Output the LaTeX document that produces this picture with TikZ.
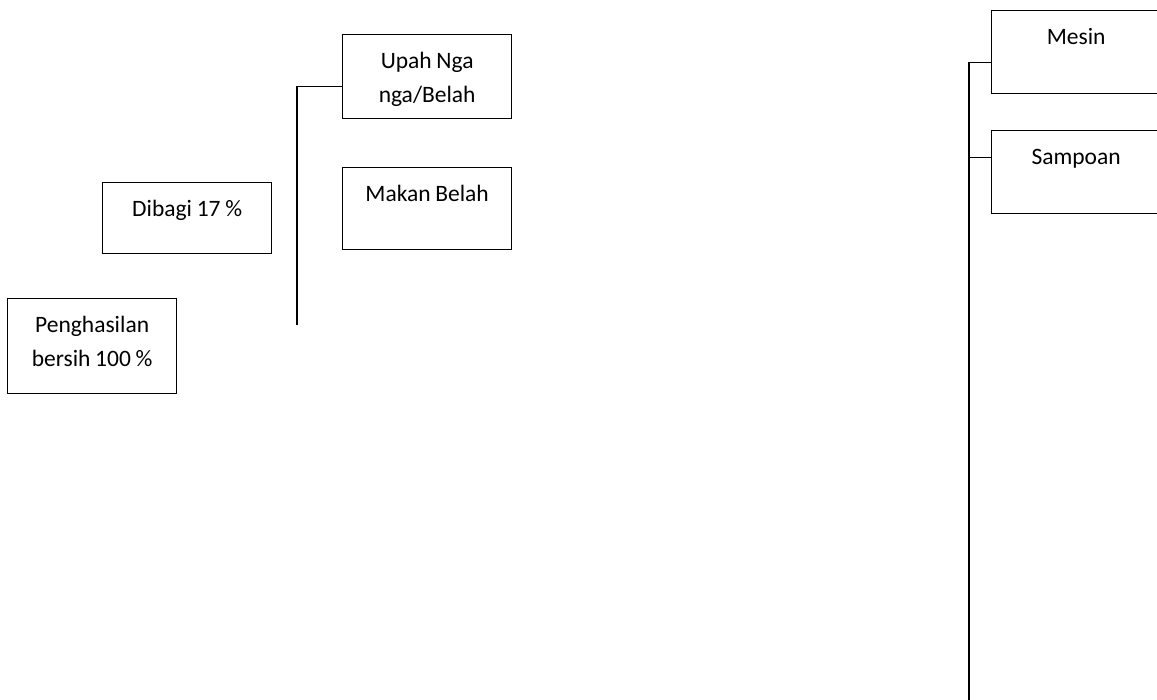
\documentclass[tikz,border=0pt]{standalone}
\usepackage{fontspec}
\setmainfont{Carlito}
\usepackage{tikz}
\usetikzlibrary{positioning}

\begin{document}
\begin{tikzpicture}[x=1pt,y=-1pt,line width=1.3pt,
    kotak/.style={draw,anchor=north west,inner sep=0pt,text width=169pt,
        execute at begin node={\centering\spaceskip=0.2em\relax},
        font=\fontsize{23.5}{34}\selectfont,text height=34pt}]
                \clip (0,0) rectangle (1157,700);
                \node[kotak,text depth=50pt] (upah) at (342,34) {Upah Nga\\nga/Belah};
                \node[kotak,text depth=48pt] (makan) at (342,167) {Makan Belah};
                \node[kotak,text depth=37pt] (bagi) at (102,182) {Dibagi 17 \%};
                \node[kotak,text depth=61pt] (hasil) at (7,298) {Penghasilan\\bersih 100 \%};
                \node[kotak,text depth=49pt] (mesin) at (991,10) {Mesin};
                \node[kotak,text depth=49pt] (sampo) at (991,130) {Sampoan};
                \coordinate (kiri) at (297,325);
                \coordinate (kanan) at (969,705);
                \draw ([yshift=-10pt]upah.west) -| (kiri);
                \draw ([yshift=-10.5pt]mesin.west) -| (kanan);
                \draw ([yshift=14.5pt]sampo.west) -- ([yshift=14.5pt]sampo.west -| kanan);
            \end{tikzpicture}
\end{document}
